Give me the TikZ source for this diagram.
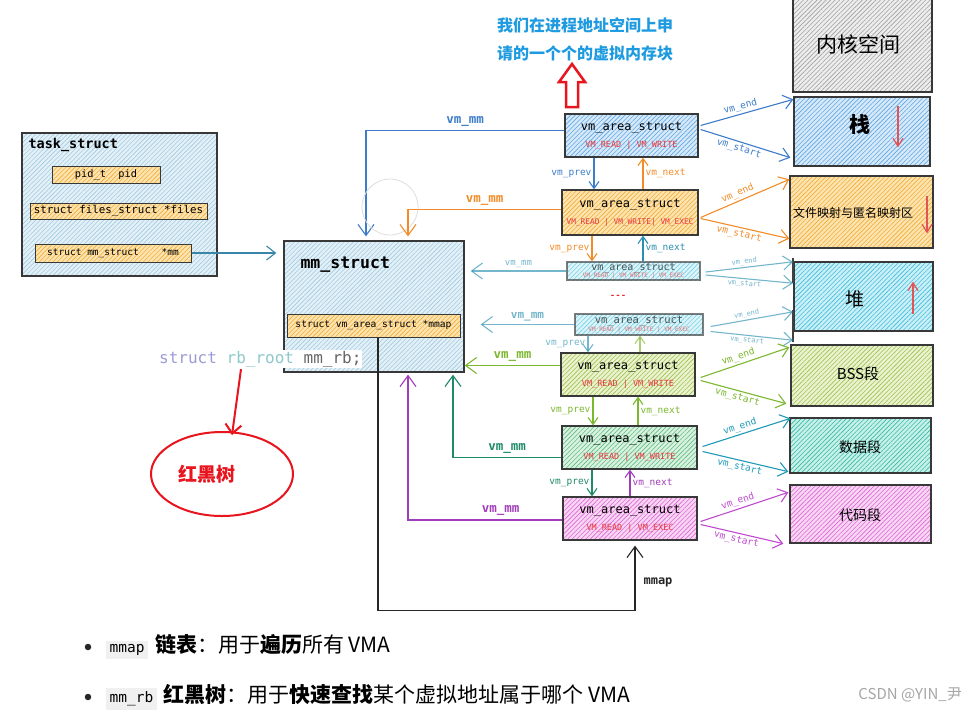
\documentclass[tikz,border=0pt]{standalone}
\usepackage{fontspec}
\setmainfont{Noto Sans CJK SC}
\setmonofont{DejaVu Sans Mono}
\usetikzlibrary{arrows.meta,patterns.meta,calc,shapes.geometric}
\definecolor{cBlue}{HTML}{3D7CC9}
\definecolor{cOrange}{HTML}{F28C28}
\definecolor{cTeal}{HTML}{2A8FB0}
\definecolor{cTealB}{HTML}{3A86A8}
\definecolor{cGreen}{HTML}{7CB82F}
\definecolor{cDGreen}{HTML}{1F8A6A}
\definecolor{cCyanA}{HTML}{1E9AB8}
\definecolor{cPurple}{HTML}{A03DB8}
\definecolor{cMagA}{HTML}{C04ACF}
\definecolor{cRed}{HTML}{E8383D}
\definecolor{cRedA}{HTML}{E8141E}
\definecolor{cRedS}{HTML}{E05555}
\definecolor{cSky}{HTML}{1E9BE0}
\definecolor{cStr}{HTML}{9C9CD4}
\definecolor{cRb}{HTML}{8EC9CC}
\definecolor{fBlue}{HTML}{D6E9F8}\definecolor{hBlue}{HTML}{5FA6E6}
\definecolor{fOrange}{HTML}{FCE3B0}\definecolor{hOrange}{HTML}{F0AE35}
\definecolor{fCyan}{HTML}{CBEFF7}\definecolor{hCyan}{HTML}{40BEDD}
\definecolor{fYG}{HTML}{EAF2CF}\definecolor{hYG}{HTML}{9FC24F}
\definecolor{fGreen}{HTML}{D8F2DF}\definecolor{hGreen}{HTML}{62BA84}
\definecolor{fTeal}{HTML}{C7F0EA}\definecolor{hTeal}{HTML}{36BBA3}
\definecolor{fMag}{HTML}{F8D5F3}\definecolor{hMag}{HTML}{DD66D5}
\definecolor{fGray}{HTML}{EDEDED}\definecolor{hGray}{HTML}{A0A0A0}
\definecolor{fLight}{HTML}{E3F0F7}\definecolor{hLight}{HTML}{A2CBE0}
\definecolor{codegray}{HTML}{F0F0F0}
\newcommand\codebg[1]{{\setlength{\fboxsep}{3.5pt}\colorbox{codegray}{\ttfamily\fontsize{14.5}{15}\selectfont #1}}}
\newcommand\fl[2][8.5]{{\color{cRed}\fontsize{#1}{#1}\selectfont #2}}
\tikzset{
 bx/.style={draw=black!78, line width=1.3pt, inner sep=0pt},
 hat/.style 2 args={preaction={fill=#1}, pattern={Lines[angle=45,distance=3.2pt,line width=.6pt]}, pattern color=#2},
 ar/.style={line width=1.1pt, -{Straight Barb[length=7pt,width=10pt,line width=1.1pt]}},
 big/.style={line width=1.1pt, -{Straight Barb[length=11pt,width=16pt,line width=1.1pt]}},
 seg/.style={line width=1.1pt, -{Straight Barb[length=9pt,width=14pt,line width=1.1pt]}},
 lbl/.style={font=\ttfamily\fontsize{9.5}{10}\selectfont, inner sep=2pt},
 slbl/.style={font=\ttfamily\fontsize{7}{8}\selectfont, inner sep=1.5pt},
 mmlbl/.style={font=\ttfamily\bfseries\fontsize{12.5}{13}\selectfont, inner sep=4pt},
 vma/.style={bx, align=center, font=\ttfamily\fontsize{12}{13}\selectfont},
 field/.style={bx, line width=1pt, hat={fOrange}{hOrange}},
 segtxt/.style={font=\fontsize{#1}{#1}\selectfont, inner sep=0pt},
 redar/.style={cRedS, line width=1.3pt, -{Straight Barb[length=8pt,width=10pt,line width=1.2pt]}},
 fade/.style={opacity=.65},
}
\begin{document}
\begin{tikzpicture}[x=1pt,y=-1pt]
\path[use as bounding box, fill=white] (0,0) rectangle (972,713);

% ---------- task_struct ----------
\node[bx, hat={fLight}{hLight}, minimum width=195, minimum height=143] (task) at (119.5,204.5) {};
\node[anchor=west, font=\ttfamily\bfseries\fontsize{13.5}{14}\selectfont] (taskt) at (25,145) {task\_struct};
\node[field, minimum width=108, minimum height=17, font=\ttfamily\fontsize{10.3}{11}\selectfont] (pid) at (106,174.5) {pid\_t~~pid};
\node[field, minimum width=177, minimum height=16, font=\ttfamily\fontsize{10.8}{11}\selectfont] (files) at (118.5,211) {struct files\_struct *files};
\node[field, minimum width=156, minimum height=18, font=\ttfamily\fontsize{9.5}{10}\selectfont] (mmf) at (113,253) {struct mm\_struct~~~~*mm};

% ---------- mm_struct ----------
\node[bx, hat={fLight}{hLight}, minimum width=180, minimum height=131] (mm) at (374,306.5) {};
\node[anchor=west, font=\ttfamily\bfseries\fontsize{16.5}{17}\selectfont] (mmt) at (297,265) {mm\_struct};
\node[field, minimum width=173, minimum height=23, font=\ttfamily\fontsize{9.6}{10}\selectfont] (ib) at (373.5,325.5) {struct vm\_area\_struct *mmap};
\node[anchor=west, fill=white, inner sep=1pt, font=\ttfamily\fontsize{16}{16}\selectfont] (rbt) at (158,359) {\textcolor{cStr}{struct} \textcolor{cRb}{rb\_root} \textcolor{black!60}{mm\_rb;}};

\draw[seg, cTealB] (mmf.east) -- ($(mm.west |- mmf.east)+(-7,0)$);

% red-black tree
\node[ellipse, draw=cRedA, line width=2pt, minimum width=142, minimum height=84] (ell) at (222,474) {};
\node[text=cRedA, font=\bfseries\fontsize{19}{19}\selectfont] (rbl) at (207,474) {红黑树};
\draw[cRedA, line width=2pt, -{Straight Barb[length=9pt,width=16pt,line width=2pt]}] ([xshift=83,yshift=-1]rbt.south west) -- ([xshift=10,yshift=-4]ell.north);

% ---------- top annotation ----------
\node[align=center, text=cSky, font=\bfseries\fontsize{16}{28}\selectfont] (note) at (585,39) {我们在进程地址空间上申\\请的一个个的虚拟内存块};
\draw[cRedA, line width=2.5pt, line join=miter] (566,107) -- (578,107) -- (578,82) -- (585,82) -- (572,64) -- (559,82) -- (566,82) -- cycle;

% ---------- vm_area_struct boxes ----------
\node[vma, hat={fBlue}{hBlue}, minimum width=133, minimum height=43] (v1) at (631.5,135.5) {vm\_area\_struct\\[4pt]\fl{VM\_READ | VM\_WRITE}};
\node[vma, hat={fOrange}{hOrange}, minimum width=136, minimum height=45] (v2) at (630,212.5) {vm\_area\_struct\\[4pt]\fl[7.8]{VM\_READ | VM\_WRITE| VM\_EXEC}};
\node[vma, fade, hat={fCyan}{hCyan}, minimum width=133, minimum height=18, font=\ttfamily\fontsize{10}{9}\selectfont] (v3) at (633.5,271) {vm\_area\_struct\\[-2pt]\fl[6]{VM\_READ | VM\_WRITE | VM\_EXEC}};
\node[vma, fade, hat={fCyan}{hCyan}, minimum width=128, minimum height=21, font=\ttfamily\fontsize{10.5}{10}\selectfont] (v4) at (639,324.5) {vm\_area\_struct\\[-2pt]\fl[6]{VM\_READ | VM\_WRITE | VM\_EXEC}};
\node[vma, hat={fYG}{hYG}, minimum width=134, minimum height=43] (v5) at (628,374.5) {vm\_area\_struct\\[4pt]\fl{VM\_READ | VM\_WRITE}};
\node[vma, hat={fGreen}{hGreen}, minimum width=135, minimum height=43] (v6) at (629.5,447.5) {vm\_area\_struct\\[4pt]\fl{VM\_READ | VM\_WRITE}};
\node[vma, hat={fMag}{hMag}, minimum width=134, minimum height=43] (v7) at (630,518.5) {vm\_area\_struct\\[4pt]\fl{VM\_READ | VM\_EXEC}};
\node[text=cRedA, font=\bfseries\fontsize{9}{9}\selectfont] (dots) at (618,297) {- - -};

% ---------- memory segments ----------
\node[bx, hat={fGray}{hGray}, minimum width=139, minimum height=98] (kern) at (862.5,43) {};
\node[segtxt=21] (kernt) at (858,44) {内核空间};
\node[bx, hat={fBlue}{hBlue}, minimum width=136, minimum height=69] (stack) at (862,131.5) {};
\node[segtxt=21, font=\bfseries\fontsize{21}{21}\selectfont] (stackt) at (860,125) {栈};
\node[bx, hat={fOrange}{hOrange}, minimum width=143, minimum height=72] (file) at (861.5,212) {};
\node[segtxt=12] (filet) at (853,213) {文件映射与匿名映射区};
\node[bx, hat={fCyan}{hCyan}, minimum width=139, minimum height=69] (heap) at (863.5,296.5) {};
\node[segtxt=19] (heapt) at (855,299) {堆};
\node[bx, hat={fYG}{hYG}, minimum width=142, minimum height=61] (bss) at (862,375.5) {};
\node[segtxt=15] (bsst) at (858,374) {BSS段};
\node[bx, hat={fTeal}{hTeal}, minimum width=141, minimum height=55] (data) at (860.5,445.5) {};
\node[segtxt=14] (datat) at (860,447) {数据段};
\node[bx, hat={fMag}{hMag}, minimum width=141, minimum height=58] (code) at (860.5,514) {};
\node[segtxt=14] (codet) at (860,515) {代码段};
\node[fill=black!75, inner sep=0pt, minimum width=2.2, minimum height=25] (bar1) at (793,270.5) {};
\node[fill=black!75, inner sep=0pt, minimum width=2.2, minimum height=32] (bar2) at (793,326) {};

% growth arrows
\draw[redar] ([xshift=36,yshift=-10]stack.north) -- ++(0,41);
\draw[redar] ([xshift=65.5,yshift=-21]file.north) -- ++(0,37);
\draw[redar] ([xshift=49.5,yshift=18]heap.south) -- ++(0,-32);

% ---------- vm_mm links ----------
\draw[big, cBlue] ([yshift=5]v1.west) -| node[pos=.25, above, mmlbl]{vm\_mm} ([xshift=-8,yshift=4]mm.north);
\node[draw=black!13, circle, line width=.8pt, minimum size=56] (ring) at (390,207) {};
\draw[big, cOrange] ([yshift=3]v2.west) -| node[pos=.25, above, mmlbl]{vm\_mm} ([xshift=34,yshift=4]mm.north);
\draw[big, cTeal, fade] (v3.west) -- node[above, font=\ttfamily\fontsize{9}{9}\selectfont]{vm\_mm} ($(mm.east |- v3.west)+(6,0)$);
\draw[big, cTeal, fade] (v4.west) -- node[above, font=\ttfamily\bfseries\fontsize{11}{11}\selectfont]{vm\_mm} ($(mm.east |- v4.west)+(16,0)$);
\coordinate (c5) at ([yshift=9]v5.west);
\draw[big, cGreen] (c5) -- node[above, mmlbl]{vm\_mm} (mm.east |- c5);
\draw[big, cDGreen] ([yshift=-10]v6.west) -| node[pos=.25, above, mmlbl]{vm\_mm} ([xshift=79,yshift=-2]mm.south);
\draw[big, cPurple] ([yshift=-1.5]v7.west) -| node[pos=.2, above, mmlbl]{vm\_mm} ([xshift=34,yshift=-2]mm.south);

% mmap list head
\draw[big, black!85] ([xshift=4.5]ib.south) -- ++(0,273) -| node[pos=.72, right, font=\ttfamily\bfseries\fontsize{12}{12}\selectfont, inner sep=8pt]{mmap} ([xshift=5,yshift=-5]v7.south);

% ---------- vm_prev / vm_next ----------
\coordinate (p12) at ($(v1.south)+(-37.5,0)$);
\draw[ar, cBlue] (p12) -- node[left, lbl]{vm\_prev} (p12 |- v2.north);
\coordinate (n21) at ($(v2.north)+(13,0)$);
\draw[ar, cOrange] (n21) -- node[right, lbl]{vm\_next} (n21 |- v1.south);
\coordinate (p23) at ($(v2.south)+(-38,0)$);
\draw[ar, cOrange] (p23) -- node[left, lbl]{vm\_prev} (p23 |- v3.north);
\coordinate (n32) at ($(v3.north)+(9.5,0)$);
\draw[ar, cTeal] (n32) -- node[right, lbl]{vm\_next} (n32 |- v2.south);
\coordinate (p45) at ($(v4.south)+(-51,0)$);
\draw[ar, cTeal, fade] (p45) -- node[left, lbl]{vm\_prev} (p45 |- v5.north);
\coordinate (n54) at ($(v5.north)+(12,0)$);
\draw[ar, cGreen, fade] (n54) -- (n54 |- v4.south);
\coordinate (p56) at ($(v5.south)+(-35,0)$);
\draw[ar, cGreen] (p56) -- node[left, lbl]{vm\_prev} (p56 |- v6.north);
\coordinate (n65) at ($(v6.north)+(8.5,0)$);
\draw[ar, cGreen] (n65) -- node[right, lbl]{vm\_next} (n65 |- v5.south);
\coordinate (p67) at ($(v6.south)+(-37.5,0)$);
\draw[ar, cDGreen] (p67) -- node[left, lbl]{vm\_prev} (p67 |- v7.north);
\coordinate (n76) at (v7.north);
\draw[ar, cPurple] (n76) -- node[right, lbl]{vm\_next} (n76 |- v6.south);

% ---------- vm_start / vm_end ----------
\draw[seg, cBlue] ([xshift=2,yshift=10]v1.east) -- node[pos=.45, sloped, above, lbl]{vm\_end} ([yshift=-3]stack.north west);
\draw[seg, cBlue] ([xshift=2,yshift=6]v1.east) -- node[pos=.45, sloped, below, lbl]{vm\_start} ([xshift=-3,yshift=9]stack.south west);
\draw[seg, cOrange] ([xshift=2,yshift=-5]v2.east) -- node[pos=.45, sloped, above, lbl]{vm\_end} ([yshift=-4]file.north west);
\draw[seg, cOrange] ([xshift=2,yshift=-6]v2.east) -- node[pos=.45, sloped, below, lbl]{vm\_start} ([yshift=10]file.south west);
\draw[seg, cTeal, fade] ([xshift=5,yshift=-1]v3.east) -- node[pos=.45, sloped, above, slbl]{vm\_end} ([yshift=-4]bar1.north);
\draw[seg, cTeal, fade] ([xshift=5,yshift=-4]v3.east) -- node[pos=.45, sloped, below, slbl]{vm\_start} (bar1.south);
\draw[seg, cTeal, fade] ([xshift=7,yshift=-2]v4.east) -- node[pos=.45, sloped, above, slbl]{vm\_end} ([yshift=-2]bar2.north);
\draw[seg, cTeal, fade] ([xshift=7,yshift=-7]v4.east) -- node[pos=.45, sloped, below, slbl]{vm\_start} ([yshift=2]bar2.south);
\draw[seg, cGreen] ([xshift=5,yshift=-3]v5.east) -- node[pos=.45, sloped, above, lbl]{vm\_end} ([xshift=-1,yshift=-3]bss.north west);
\draw[seg, cGreen] ([xshift=5,yshift=-6]v5.east) -- node[pos=.45, sloped, below, lbl]{vm\_start} ([xshift=-4,yshift=3]bss.south west);
\draw[seg, cCyanA] ([xshift=5,yshift=1]v6.east) -- node[pos=.45, sloped, above, lbl]{vm\_end} ([xshift=1,yshift=-1]data.north west);
\draw[seg, cCyanA] ([xshift=5,yshift=-4]v6.east) -- node[pos=.45, sloped, below, lbl]{vm\_start} ([xshift=-1,yshift=2]data.south west);
\draw[seg, cMagA] ([xshift=3,yshift=-3]v7.east) -- node[pos=.45, sloped, above, lbl]{vm\_end} ([xshift=-1,yshift=-8]code.north west);
\draw[seg, cMagA] ([xshift=3,yshift=-6]v7.east) -- node[pos=.45, sloped, below, lbl]{vm\_start} ([xshift=-6]code.south west);

% ---------- bottom notes ----------
\node[circle, fill=black!85, inner sep=0pt, minimum size=6.5] (b1) at (88,647) {};
\node[circle, fill=black!85, inner sep=0pt, minimum size=6.5] (b2) at (88,697) {};
\node[anchor=west, inner sep=0pt, font=\fontsize{21}{21}\selectfont] (t1) at (106,647) {\codebg{mmap}\hspace{7pt}\textbf{链表}：用于\textbf{遍历}所有 VMA};
\node[anchor=west, inner sep=0pt, font=\fontsize{21}{21}\selectfont] (t2) at (106,697) {\codebg{mm\_rb}\hspace{7pt}\textbf{红黑树}：用于\textbf{快速查找}某个虚拟地址属于哪个 VMA};
\node[anchor=east, text=black!35, font=\fontsize{15}{15}\selectfont, inner sep=0pt] (wm) at (962,695) {CSDN @YIN\_尹};
\end{tikzpicture}
\end{document}
